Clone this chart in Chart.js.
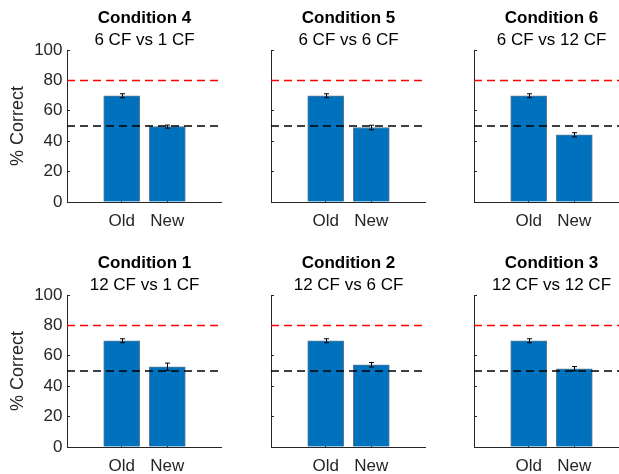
<!DOCTYPE html>
<html>
<head>
<meta charset="utf-8">
<script src="https://cdn.jsdelivr.net/npm/chart.js@4/dist/chart.umd.min.js"></script>
<style>
  html, body { margin:0; padding:0; background:#fff; width:619px; height:474px; overflow:hidden; }
  .panel { position:absolute; width:222px; height:240px; }
</style>
</head>
<body>
<div id="wrap"></div>
<script>
// panels in reading order (top row first)
const groups = ['Old', 'New'];
const titles = ['Condition 4', 'Condition 5', 'Condition 6', 'Condition 1', 'Condition 2', 'Condition 3'];
const subtitles = ['6 CF vs 1 CF', '6 CF vs 6 CF', '6 CF vs 12 CF', '12 CF vs 1 CF', '12 CF vs 6 CF', '12 CF vs 12 CF'];
const oldMeans = [69.9, 69.9, 69.9, 69.9, 69.9, 69.9];
const newMeans = [49.6, 49.0, 44.2, 52.8, 54.1, 51.5];
const oldErr = [1.3, 1.3, 1.3, 1.3, 1.3, 1.3];
const newErr = [1.0, 1.5, 1.4, 2.4, 1.5, 1.4];
const targetLevel = 80;   // red dashed
const chanceLevel = 50;   // black dashed
const yLim = [0, 100];
const xLim = [-0.2, 3.2];

Chart.defaults.font.family = '"Liberation Sans", Arial, sans-serif';
Chart.defaults.color = '#262626';

const errorBars = {
  id: 'errorBars',
  afterDatasetsDraw(chart, args, opts){
    const {ctx, scales:{y}} = chart;
    const meta = chart.getDatasetMeta(0);
    ctx.save();
    ctx.strokeStyle = '#000'; ctx.lineWidth = 1;
    meta.data.forEach((bar, i) => {
      const m = opts.means[i], e = opts.errs[i];
      const x = Math.round(bar.x) + 0.5;
      const top = y.getPixelForValue(m + e), bot = y.getPixelForValue(m - e);
      ctx.beginPath();
      ctx.moveTo(x, top); ctx.lineTo(x, bot);
      ctx.moveTo(x - 2.5, top); ctx.lineTo(x + 2.5, top);
      ctx.moveTo(x - 2.5, bot); ctx.lineTo(x + 2.5, bot);
      ctx.stroke();
    });
    ctx.restore();
  }
};

function hLine(level, color){
  return { type:'line', order:0, data:[{x:xLim[0], y:level}, {x:xLim[1], y:level}],
           borderColor:color, borderWidth:1.5, borderDash:[8,5], pointRadius:0, clip:false };
}

function makePanel(i){
  const col = i % 3, row = Math.floor(i / 3);
  const div = document.createElement('div');
  div.className = 'panel';
  div.style.left = [0, 204, 407][col] + 'px';
  div.style.top = (row * 245) + 'px';
  const cv = document.createElement('canvas');
  cv.width = 222; cv.height = 240;
  div.appendChild(cv);
  document.getElementById('wrap').appendChild(div);

  const means = [oldMeans[i], newMeans[i]], errs = [oldErr[i], newErr[i]];
  const first = col === 0;

  new Chart(cv, {
    type:'bar',
    data:{ datasets:[
      { type:'bar', order:1, data: groups.map((g, k) => ({x:k + 1, y:means[k]})),
        backgroundColor:'#0072BD', borderColor:'#5d7a92', borderWidth:1,
        barThickness:36 },
      hLine(targetLevel, '#FF0000'),
      hLine(chanceLevel, '#000000')
    ]},
    options:{
      responsive:false, animation:false, events:[],
      layout:{ padding:0 },
      plugins:{
        legend:{ display:false }, tooltip:{ enabled:false },
        title:{ display:true, text:titles[i], fullSize:false, color:'#000',
                font:{ size:17, weight:'bold', lineHeight:1 }, padding:{ top:10, bottom:2 } },
        subtitle:{ display:true, text:subtitles[i], fullSize:false, color:'#000',
                font:{ size:17, lineHeight:1 }, padding:{ top:3, bottom:1 } },
        errorBars:{ means, errs }
      },
      scales:{
        x:{ type:'linear', min:xLim[0], max:xLim[1], offset:false, bounds:'ticks',
            afterBuildTicks: s => { s.ticks = groups.map((g, k) => ({value:k + 1})); },
            afterDataLimits: s => { s.min = xLim[0]; s.max = xLim[1]; },
            afterFit: s => { s.height = 38; },
            ticks:{ callback: v => groups[v - 1], font:{ size:17 }, padding:12, maxRotation:0 },
            grid:{ offset:false, drawOnChartArea:false, tickLength:-3, color:'#262626' },
            border:{ color:'#262626', width:1 } },
        y:{ min:yLim[0], max:yLim[1],
            afterFit: s => { s.width = 67; },
            ticks:{ stepSize:20, font:{ size:17 }, padding:7.5, callback: v => first ? v : '' },
            grid:{ drawOnChartArea:false, tickLength:-3, color:'#262626' },
            border:{ color:'#262626', width:1 },
            title:{ display:first, text:'% Correct', font:{ size:18, lineHeight:1 }, padding:{ top:9, bottom:0 } } }
      }
    },
    plugins:[errorBars]
  });
}

titles.forEach((t, i) => makePanel(i));
</script>
</body>
</html>
